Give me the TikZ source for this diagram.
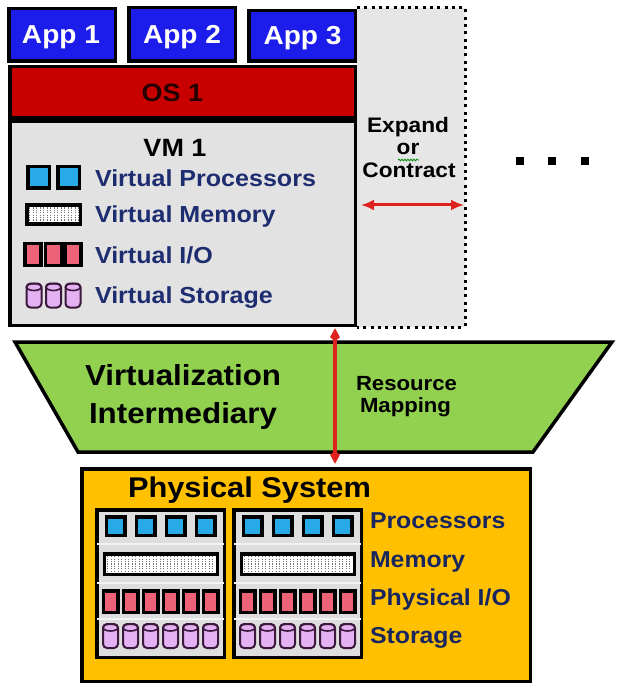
\documentclass[tikz,border=0pt]{standalone}
\usepackage{fontspec}
\setmainfont{Liberation Sans}[FakeStretch=1.08]
\usetikzlibrary{arrows.meta,decorations.pathmorphing}
\definecolor{appblue}{RGB}{28,28,235}
\definecolor{osred}{RGB}{200,0,0}
\definecolor{vmgray}{RGB}{226,226,226}
\definecolor{dotgray}{RGB}{230,230,230}
\definecolor{navy}{RGB}{30,44,112}
\definecolor{procblue}{RGB}{40,170,230}
\definecolor{iored}{RGB}{238,98,120}
\definecolor{cylfill}{RGB}{228,178,242}
\definecolor{cyldraw}{RGB}{60,25,60}
\definecolor{vgreen}{RGB}{146,208,80}
\definecolor{physyellow}{RGB}{255,192,0}
\definecolor{innergray}{RGB}{222,222,222}
\definecolor{arrred}{RGB}{222,35,30}
\begin{document}
\begin{tikzpicture}[x=1pt,y=-1pt,
  box/.style={draw=black, line width=3.5pt, inner sep=0pt, outer sep=0pt},
  lbl/.style={inner sep=0pt, outer sep=0pt, font=\bfseries\fontsize{#1}{#1}\selectfont},
  proc/.style={draw=black, line width=3.5pt, fill=procblue, minimum size=#1, inner sep=0pt},
  io/.style={draw=black, line width=3.5pt, fill=iored, inner sep=0pt},
  mem/.style={draw=black, line width=3.5pt, fill=white, inner sep=0pt,
    path picture={\foreach \xx in {3,6.5,...,130}
      \draw[black!55, line width=1pt, dash pattern=on 1.2pt off 1.2pt]
        ([xshift=\xx pt]path picture bounding box.north west) --
        ([xshift=\xx pt]path picture bounding box.south west);}},
  dotline/.style={draw=black, line width=3pt, dash pattern=on 3pt off 4.3pt},
  redarr/.style={draw=arrred, line width=3.2pt},
  sepline/.style={draw=white!65!innergray, line width=1.2pt},
  cyl/.pic={
    \path[fill=cylfill, draw=cyldraw, line width=2pt, rounded corners=4pt] (-7.5,-12) rectangle (7.5,12);
    \draw[cyldraw, line width=1.6pt] (0,-8.5) ellipse [x radius=7.5pt, y radius=3.5pt];
  }
]
\useasboundingbox (0,0) rectangle (617,700);

% expand / contract region
\fill[dotgray] (357,8) rectangle (465,327);
\draw[dotline] (357,8) -- (465,8) -- (465,327) -- (357,327);

% applications
\node[box, fill=appblue, minimum width=106.5pt, minimum height=52.5pt] (app1) at (62,35) {};
\node[box, fill=appblue, minimum width=106.5pt, minimum height=53.5pt] (app2) at (182,34.5) {};
\node[box, fill=appblue, minimum width=106.5pt, minimum height=50.5pt] (app3) at (302,36) {};
\node[lbl=26, text=white, anchor=base] (app1t) at (61,44) {App 1};
\node[lbl=26, text=white, anchor=base] (app2t) at (182,43.5) {App 2};
\node[lbl=26, text=white, anchor=base] (app3t) at (302.5,44.5) {App 3};

% OS
\node[box, fill=osred, minimum width=345.5pt, minimum height=51.5pt] (os) at (182.5,92.5) {};
\node[lbl=25, text=black!85!red, anchor=base] (ost) at (172.5,102) {OS 1};

% VM
\node[box, fill=vmgray, minimum width=345.5pt, minimum height=203.5pt] (vm) at (182.5,223.5) {};
\node[lbl=25, anchor=base] (vmt) at (175,157) {VM 1};
\node[proc=21.5pt] (vp1) at (38.5,177.5) {};
\node[proc=21.5pt] (vp2) at (68.5,177.5) {};
\node[mem, minimum width=53.5pt, minimum height=19pt] (vmem) at (53.5,214.5) {};
\foreach \i/\x in {1/33,2/53.5,3/73}
  \node[io, minimum width=16pt, minimum height=21.5pt] (vio\i) at (\x,254.5) {};
\foreach \x in {34,53.5,73}
  \pic at (\x,295.5) {cyl};
\node[lbl=23.2, text=navy, anchor=base west] (vpt) at (95,187) {Virtual Processors};
\node[lbl=23.2, text=navy, anchor=base west] (vmt2) at (95,223) {Virtual Memory};
\node[lbl=23.2, text=navy, anchor=base west] (viot) at (95,263) {Virtual I/O};
\node[lbl=23.2, text=navy, anchor=base west] (vst) at (95,303) {Virtual Storage};

% expand or contract
\node[lbl=21, anchor=base] (exp) at (408,133) {Expand};
\node[lbl=21, anchor=base] (ort) at (408,155) {or};
\node[lbl=21, anchor=base] (con) at (409,178) {Contract};
\draw[green!55!black, line width=0.8pt, decorate, decoration={snake, amplitude=0.9pt, segment length=3pt}] (398,160) -- (419,160);
\coordinate (hl) at (361,205);
\coordinate (hr) at (464,205);
\draw[redarr, line width=3pt, {Latex[length=13pt,width=11pt]}-{Latex[length=13pt,width=11pt]}] (hl) -- (hr);

% more VMs
\foreach \i/\x in {1/520,2/552,3/585}
  \node[fill=black, minimum size=8pt, inner sep=0pt] (dot\i) at (\x,161) {};

% virtualization intermediary
\draw[line width=3.5pt, fill=vgreen, line join=miter] (15,342) -- (612,342) -- (533,452) -- (78,452) -- cycle;
\node[lbl=29, anchor=base west] (virt1) at (85,385) {Virtualization};
\node[lbl=29, anchor=base west] (virt2) at (89,423) {Intermediary};
\node[lbl=20.5, anchor=base west] (res1) at (356,390) {Resource};
\node[lbl=20.5, anchor=base west] (res2) at (360,412) {Mapping};

% physical system
\node[box, fill=physyellow, minimum width=448.5pt, minimum height=212.5pt] (phys) at (306,575) {};
\node[lbl=28.5, anchor=base west] (physt) at (128,497) {Physical System};
\foreach \n/\o in {1/0,2/137} {
  \node[box, fill=innergray, minimum width=127.5pt, minimum height=147.5pt] (in\n) at (160.5+\o,583.5) {};
  \draw[sepline] (97+\o,544) -- (224+\o,544);
  \draw[sepline] (97+\o,583) -- (224+\o,583);
  \draw[sepline] (97+\o,619) -- (224+\o,619);
  \foreach \k in {0,...,3}
    \node[proc=18.5pt] (pp\n\k) at (115.5+\o+30*\k,526) {};
  \node[mem, minimum width=113pt, minimum height=20.5pt] (pm\n) at (161+\o,564) {};
  \foreach \k in {0,...,5}
    \node[io, minimum width=14.5pt, minimum height=21.5pt] (pio\n\k) at (110.5+\o+20*\k,601.5) {};
  \foreach \k in {0,...,5}
    \pic at (110.5+\o+20*\k,636) {cyl};
}
\node[lbl=23, text=navy!85!black, anchor=base west] (prt) at (370,528) {Processors};
\node[lbl=23, text=navy!85!black, anchor=base west] (pmt) at (370,567) {Memory};
\node[lbl=23, text=navy!85!black, anchor=base west] (piot) at (370,605) {Physical I/O};
\node[lbl=23, text=navy!85!black, anchor=base west] (pst) at (370,643) {Storage};

% resource mapping arrow
\coordinate (ax) at (335,0);
\draw[redarr, {Kite[length=13pt,width=10pt,inset=4pt]}-{Kite[length=13pt,width=10pt,inset=4pt]}, shorten <=3pt, shorten >=5pt] (vm.south -| ax) -- (phys.north -| ax);
\end{tikzpicture}
\end{document}
